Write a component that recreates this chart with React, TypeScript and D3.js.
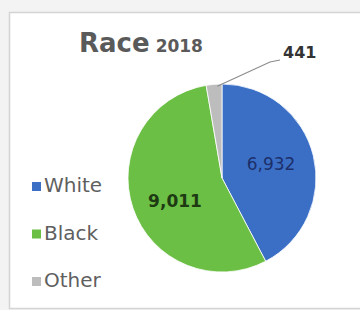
import React from "react";
import * as d3 from "d3";

const categories = ["White", "Black", "Other"];
const values = [6932, 9011, 441];
const colors = ["#3b6fc6", "#6cbf45", "#bdbdbd"];
const labelColors = ["#1c2f6b", "#1d3a12", "#333333"];

export default function App() {
  const W = 360, H = 310;
  const cx = 222, cy = 178, r = 94;
  const pie = d3.pie<number>().sort(null).value((d) => d)(values);
  const arc = d3.arc<d3.PieArcDatum<number>>().innerRadius(0).outerRadius(r);
  const fmt = d3.format(",");
  const font = "'DejaVu Sans', Verdana, sans-serif";

  const other = pie[2];
  const oMid = (other.startAngle + other.endAngle) / 2;
  const lx0 = cx + Math.sin(oMid) * (r - 2) + 3;
  const ly0 = cy - Math.cos(oMid) * (r - 2);

  return (
    <svg width={W} height={H} style={{ position: "absolute", left: 0, top: 0 }}>
      <rect x={0} y={0} width={W} height={H} fill="#f3f3f3" />
      <rect x={9.5} y={12.5} width={W} height={296} fill="#ffffff" stroke="#d4d4d4" strokeWidth={1.5} />
      <text x={79} y={52} fontFamily={font} fontWeight={700} fill="#5a5a5a">
        <tspan fontSize={26}>Race</tspan>
        <tspan fontSize={17} dx={6}>2018</tspan>
      </text>
      <g transform={`translate(${cx},${cy})`}>
        {pie.map((p, i) => (
          <path key={categories[i]} d={arc(p) || ""} fill={colors[i]} stroke="#ffffff" strokeWidth={0.8} />
        ))}
      </g>
      <text x={271} y={170} textAnchor="middle" fontFamily={font} fontSize={17} fill={labelColors[0]}>
        {fmt(values[0])}
      </text>
      <text x={175} y={207} textAnchor="middle" fontFamily={font} fontSize={17} fontWeight={700} fill={labelColors[1]}>
        {fmt(values[1])}
      </text>
      <polyline points={`${lx0},${ly0} 270,62 280,60`} fill="none" stroke="#8c8c8c" strokeWidth={1.2} />
      <text x={283} y={58} fontFamily={font} fontSize={16} fontWeight={700} fill={labelColors[2]}>
        {fmt(values[2])}
      </text>
      {categories.map((c, i) => (
        <g key={c} transform={`translate(32,${192 + i * 47.5})`}>
          <rect x={0} y={-10} width={9} height={9} fill={colors[i]} />
          <text x={12} y={0} fontFamily={font} fontSize={20} fill="#5f5f5f">{c}</text>
        </g>
      ))}
    </svg>
  );
}
